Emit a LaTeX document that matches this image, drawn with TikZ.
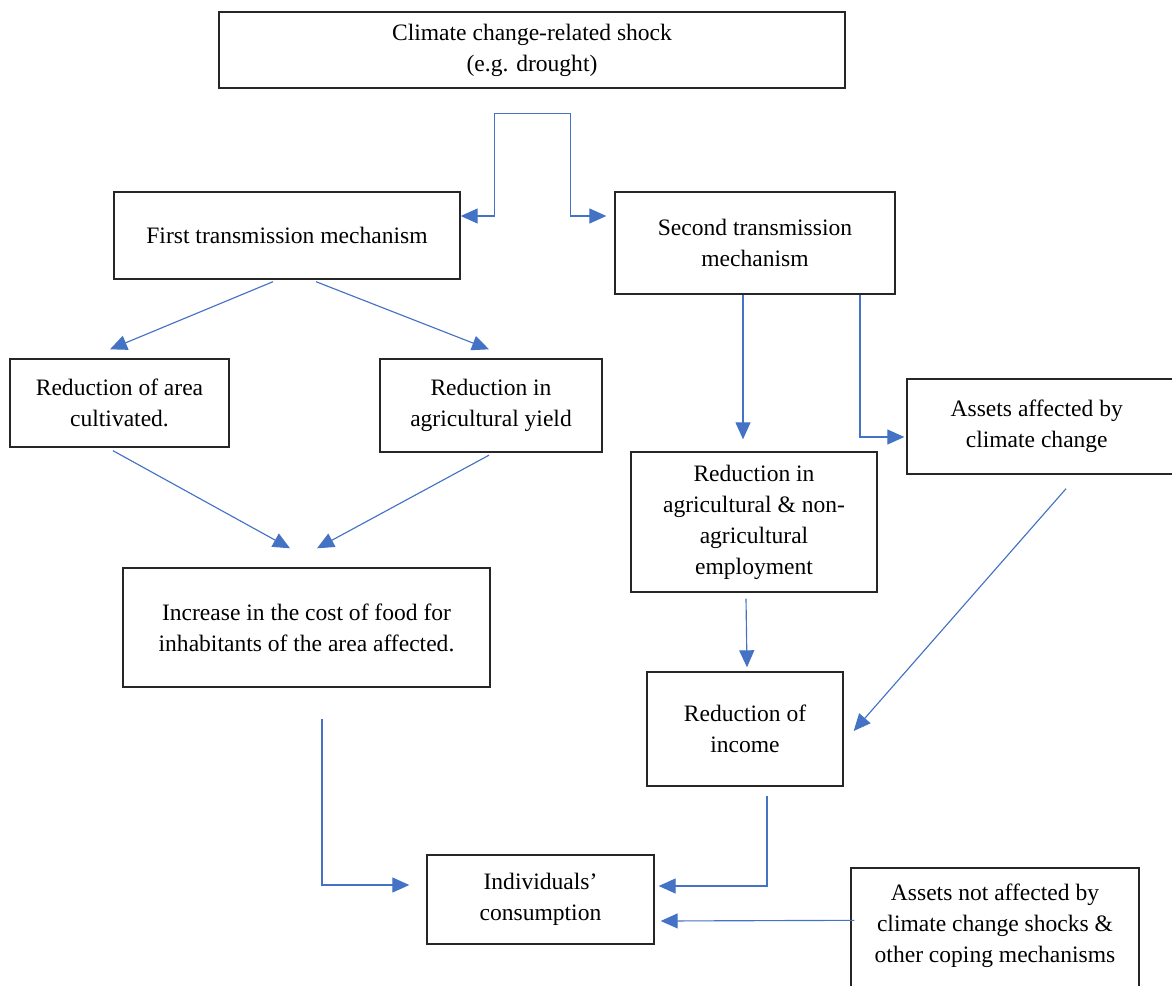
\documentclass[tikz,border=0pt]{standalone}
\usepackage{fontspec}
\setmainfont{Liberation Serif}
\usetikzlibrary{arrows.meta,calc}
\definecolor{linkblue}{HTML}{4472C4}
\begin{document}
\begin{tikzpicture}[x=0.02cm,y=-0.02cm,
    box/.style={shape=rectangle,draw=black!85,line width=0.8pt,align=center,
        font=\fontsize{13.4pt}{17.6pt}\selectfont,inner sep=0pt},
    link/.style={draw=linkblue,line width=0.65pt,-{Triangle[length=0.34cm,width=0.3cm]}}]
        \useasboundingbox (0,0) rectangle (1172,986);
        \node[box,minimum width=12.52cm,minimum height=1.52cm] (shock) at (532,50) {Climate change-related shock\\(e.g. drought)};
        \node[box,minimum width=6.92cm,minimum height=1.74cm] (first) at (287,235.5) {First transmission mechanism};
        \node[box,minimum width=5.6cm,minimum height=2.04cm] (second) at (755,243) {Second transmission\\mechanism};
        \node[box,minimum width=4.38cm,minimum height=1.76cm] (area) at (119.5,403) {Reduction of area\\cultivated.};
        \node[box,minimum width=4.44cm,minimum height=1.86cm] (yield) at (491,405.5) {Reduction in\\agricultural yield};
        \node[box,minimum width=5.4cm,minimum height=1.9cm] (assets) at (1042,426.5) {\hspace*{-6pt}Assets affected by\\\hspace*{-6pt}climate change};
        \node[box,minimum width=4.92cm,minimum height=2.8cm] (employment) at (754,522) {Reduction in\\agricultural \& non-\\agricultural\\employment};
        \node[box,minimum width=7.34cm,minimum height=2.38cm] (food) at (306.5,627.5) {Increase in the cost of food for\\inhabitants of the area affected.};
        \node[box,minimum width=3.92cm,minimum height=2.28cm] (income) at (745,729) {Reduction of\\income};
        \node[box,minimum width=4.54cm,minimum height=1.78cm] (consumption) at (540.5,899.5) {Individuals’\\consumption};
        \node[box,minimum width=5.76cm,minimum height=3.2cm] (notaff) at (995,948) {};
        \node[box,draw=none] (notafftext) at (995,926) {Assets not affected by\\climate change shocks \&\\other coping mechanisms};
        \coordinate (split) at ($(shock.south)+(0,25)$);
        \path[link] (split) -| ($(first.east)+(34,-19.5)$) -- ($(first.east)+(0,-19.5)$);
        \path[link] (split) -| ($(second.west)+(-44,-27)$) -- ($(second.west)+(-8,-27)$);
        \path[link] ($(first.south)+(-14,2)$) -- ($(area.north)+(-9.5,-9)$);
        \path[link] ($(first.south)+(29,2)$) -- ($(yield.north)+(-2,-9)$);
        \path[link] ($(area.south)+(-6.5,3)$) -- ($(food.north)+(-16.5,-19)$);
        \path[link] ($(yield.south)+(-2,2.5)$) -- ($(food.north)+(10.5,-19)$);
        \path[link] ($(second.south)+(-12,0)$) -- ($(employment.north)+(-11,-12)$);
        \path[link] ($(second.south)+(105,0)$) |- ($(assets.west)+(-2,10.5)$);
        \path[link] ($(employment.south)+(-8,6)$) -- ($(income.north)+(2,-4)$);
        \path[link] ($(assets.south)+(24,14)$) -- ($(income.east)+(10,2)$);
        \path[link] ($(food.south)+(15.5,31)$) |- ($(consumption.west)+(-17,-14.5)$);
        \path[link] ($(income.south)+(22,9)$) |- ($(consumption.east)+(4,-13.5)$);
        \path[link] ($(notaff.north west)+(4,53)$) -- ($(consumption.east)+(6,21.5)$);
    \end{tikzpicture}
\end{document}
